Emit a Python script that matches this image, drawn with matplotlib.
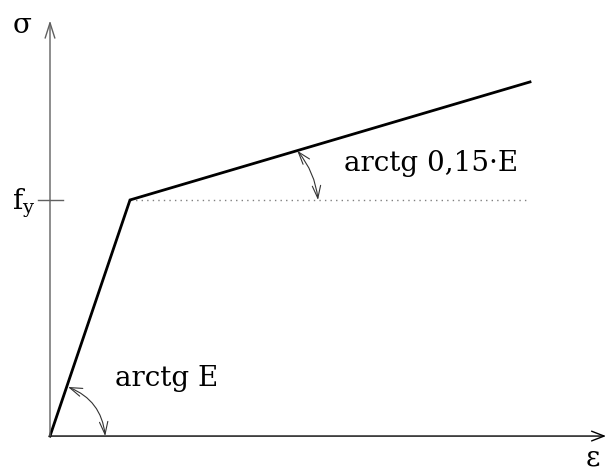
import matplotlib
matplotlib.use('Agg')
import matplotlib.pyplot as plt

# Bilinear stress-strain diagram (strain in units of yield strain, stress in units of fy)
eps = [0.0, 1.0, 6.0]
sigma = [0.0, 1.0, 1.5]
fy = 1.0
eps_axis_end = 6.95
sigma_axis_end = 1.76

plt.rcParams['font.family'] = ['DejaVu Serif']
plt.rcParams['mathtext.fontset'] = 'dejavuserif'

fig = plt.figure(figsize=(6.08, 4.71), dpi=100)
ax = fig.add_axes([0, 0, 1, 1])
ax.set_xlim(-0.625, 6.975)
ax.set_ylim(-0.148, 1.847)
ax.axis('off')

# axes with open arrowheads
ax.annotate('', xy=(eps_axis_end, 0), xytext=(0, 0),
            arrowprops=dict(arrowstyle='->,head_length=0.9,head_width=0.35',
                            color='black', lw=1.0, shrinkA=0, shrinkB=0))
ax.annotate('', xy=(0, sigma_axis_end), xytext=(0, 0),
            arrowprops=dict(arrowstyle='->,head_length=1.1,head_width=0.35',
                            color='#606060', lw=1.0, shrinkA=0, shrinkB=0))

# yield level tick and dotted reference line
ax.plot([-0.15, 0.16], [fy, fy], color='#606060', lw=1.0)
ax.plot([eps[1], eps[2]], [fy, fy], color='#808080', lw=1.0, ls=(0, (1, 3)))

# stress-strain curve
ax.plot(eps, sigma, color='black', lw=2.0, solid_joinstyle='miter')

# angle markers (elastic and hardening slopes)
ax.annotate('', xy=(0.69, 0.0), xytext=(0.225, 0.208),
            arrowprops=dict(arrowstyle='<->,head_length=0.9,head_width=0.3',
                            color='#333333', lw=0.8, shrinkA=0, shrinkB=0,
                            connectionstyle='arc3,rad=-0.3'))
ax.annotate('', xy=(3.35, fy), xytext=(3.09, 1.209),
            arrowprops=dict(arrowstyle='<->,head_length=0.9,head_width=0.3',
                            color='#333333', lw=0.8, shrinkA=0, shrinkB=0,
                            connectionstyle='arc3,rad=-0.15'))

ax.text(0.81, 0.245, 'arctg E', fontsize=20, ha='left', va='center')
ax.text(3.68, 1.155, 'arctg 0,15·E', fontsize=20, ha='left', va='center')

# axis labels
ax.text(-0.35, 1.74, 'σ', fontsize=20, ha='center', va='center')
ax.text(6.78, -0.095, 'ε', fontsize=20, ha='center', va='center')
ax.text(-0.33, 0.985, r'$\mathrm{f_y}$', fontsize=20, ha='center', va='center')

fig.savefig('out.png', dpi=100)
